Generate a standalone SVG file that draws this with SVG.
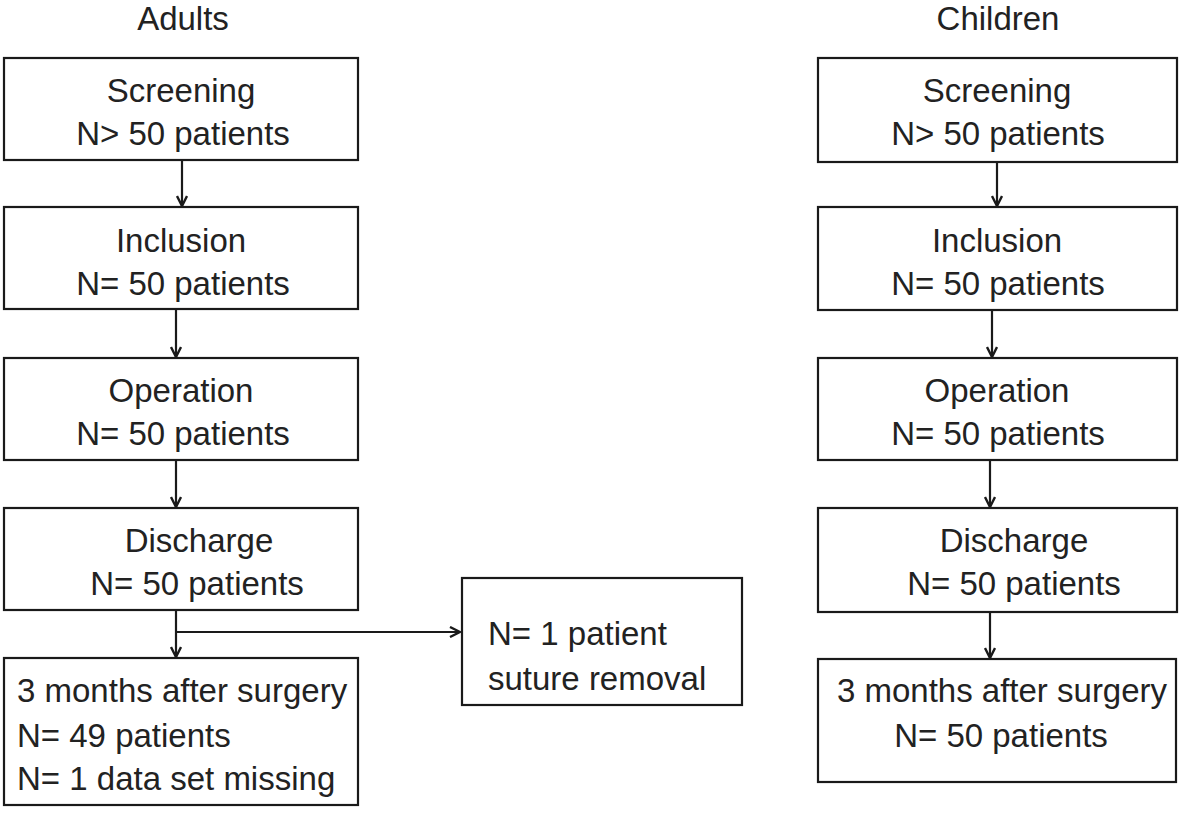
<svg xmlns="http://www.w3.org/2000/svg" width="1181" height="813" viewBox="0 0 1181 813">
<defs>
<style>
.box{fill:#fff;stroke:#1a1a1a;stroke-width:2.2}
.t{font-family:"Liberation Sans",Arial,sans-serif;font-size:33px;fill:#222}
.c{text-anchor:middle}
.ln{stroke:#1a1a1a;stroke-width:2.2;fill:none}
</style>
<marker id="ah" viewBox="0 0 12 12" refX="11" refY="6" markerWidth="12" markerHeight="12" markerUnits="userSpaceOnUse" orient="auto">
<polyline points="1,1 11,6 1,11" fill="none" stroke="#1a1a1a" stroke-width="2.4"/>
</marker>
</defs>
<rect width="1181" height="813" fill="#fff"/>
<text class="t c" x="183" y="30">Adults</text>
<text class="t c" x="998" y="30">Children</text>

<g id="a1"><rect class="box" x="4" y="58" width="354" height="102"/><text class="t c" x="181" y="102">Screening</text><text class="t c" x="183" y="145">N&gt; 50 patients</text></g>
<g id="a2"><rect class="box" x="4" y="207" width="354" height="102"/><text class="t c" x="181" y="252">Inclusion</text><text class="t c" x="183" y="295">N= 50 patients</text></g>
<g id="a3"><rect class="box" x="4" y="358" width="354" height="102"/><text class="t c" x="181" y="402">Operation</text><text class="t c" x="183" y="445">N= 50 patients</text></g>
<g id="a4"><rect class="box" x="4" y="508" width="354" height="102"/><text class="t c" x="199" y="552">Discharge</text><text class="t c" x="197" y="595">N= 50 patients</text></g>
<g id="a5"><rect class="box" x="4" y="658" width="354" height="147"/><text class="t" x="17" y="702">3 months after surgery</text><text class="t" x="17" y="747">N= 49 patients</text><text class="t" x="17" y="790">N= 1 data set missing</text></g>
<g id="side"><rect class="box" x="462" y="578" width="280" height="127"/><text class="t" x="488" y="645">N= 1 patient</text><text class="t" x="488" y="690">suture removal</text></g>

<g id="c1"><rect class="box" x="818" y="58" width="359" height="104"/><text class="t c" x="997" y="102">Screening</text><text class="t c" x="998" y="145">N&gt; 50 patients</text></g>
<g id="c2"><rect class="box" x="818" y="207" width="359" height="103"/><text class="t c" x="997" y="252">Inclusion</text><text class="t c" x="998" y="295">N= 50 patients</text></g>
<g id="c3"><rect class="box" x="818" y="358" width="359" height="102"/><text class="t c" x="997" y="402">Operation</text><text class="t c" x="998" y="445">N= 50 patients</text></g>
<g id="c4"><rect class="box" x="818" y="508" width="359" height="104"/><text class="t c" x="1014" y="552">Discharge</text><text class="t c" x="1014" y="595">N= 50 patients</text></g>
<g id="c5"><rect class="box" x="818" y="659" width="358" height="123"/><text class="t c" x="1002" y="702">3 months after surgery</text><text class="t c" x="1001" y="747">N= 50 patients</text></g>

<g id="connectors">
<line class="ln" x1="182" y1="160" x2="182" y2="206" marker-end="url(#ah)"/>
<line class="ln" x1="176" y1="309" x2="176" y2="357" marker-end="url(#ah)"/>
<line class="ln" x1="176" y1="460" x2="176" y2="507" marker-end="url(#ah)"/>
<line class="ln" x1="176" y1="610" x2="176" y2="657" marker-end="url(#ah)"/>
<line class="ln" x1="177" y1="632" x2="460" y2="632" marker-end="url(#ah)"/>
<line class="ln" x1="997" y1="162" x2="997" y2="206" marker-end="url(#ah)"/>
<line class="ln" x1="992" y1="310" x2="992" y2="357" marker-end="url(#ah)"/>
<line class="ln" x1="990" y1="460" x2="990" y2="507" marker-end="url(#ah)"/>
<line class="ln" x1="990" y1="612" x2="990" y2="658" marker-end="url(#ah)"/>
</g>
</svg>
